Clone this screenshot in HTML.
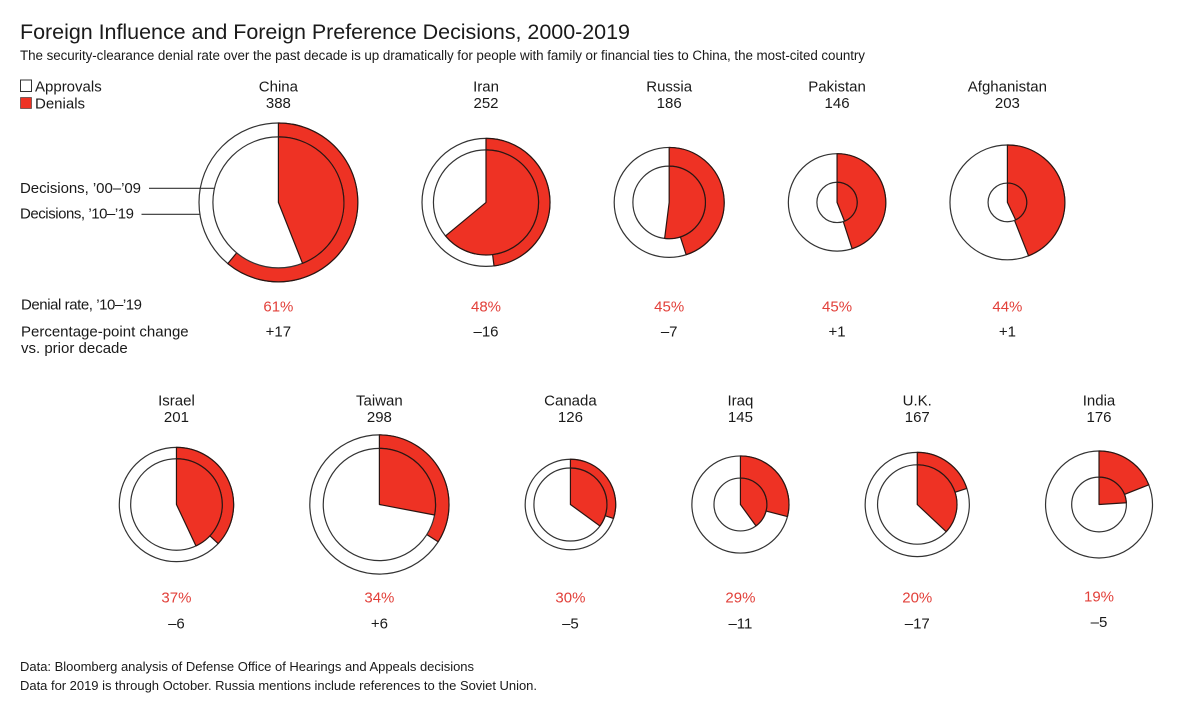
<!DOCTYPE html>
<html lang="en">
<head>
<meta charset="utf-8">
<title>Foreign Influence and Foreign Preference Decisions, 2000-2019</title>
<style>
html,body{margin:0;padding:0;background:#fff;}
svg{display:block;}
text{font-family:"Liberation Sans",sans-serif;fill:#1a1a1a;}
.label{font-size:15px;}
.mid{text-anchor:middle;}
.rate{fill:#e2403a;}
.foot{font-size:13px;}
</style>
</head>
<body>
<svg id="chart" xmlns="http://www.w3.org/2000/svg" width="1200" height="714" viewBox="0 0 1200 714">
  <rect x="0" y="0" width="1200" height="714" fill="#fff"/>
  <text x="20" y="39" font-size="21.5" textLength="610" lengthAdjust="spacing">Foreign Influence and Foreign Preference Decisions, 2000-2019</text>
  <text x="20" y="60" font-size="13.4" textLength="845" lengthAdjust="spacing">The security-clearance denial rate over the past decade is up dramatically for people with family or financial ties to China, the most-cited country</text>

  <rect x="20.5" y="80" width="11" height="11.5" fill="#fff" stroke="#333" stroke-width="1"/>
  <text class="label" x="35" y="91.5">Approvals</text>
  <rect x="20.5" y="97.5" width="11" height="11" fill="#ee3224" stroke="#333" stroke-width=".6"/>
  <text class="label" x="35" y="108.5">Denials</text>

  <text class="label" x="20" y="193" textLength="121" lengthAdjust="spacing">Decisions, ’00–’09</text>
  <text class="label" x="20" y="218.5" textLength="114" lengthAdjust="spacing">Decisions, ’10–’19</text>
  <text class="label" x="21" y="309.5" textLength="121" lengthAdjust="spacing">Denial rate, ’10–’19</text>
  <text class="label" x="21" y="336.5">Percentage-point change</text>
  <text class="label" x="21" y="353">vs. prior decade</text>

  <g id="marks"></g>

  <text class="foot" x="20" y="671" textLength="454" lengthAdjust="spacing">Data: Bloomberg analysis of Defense Office of Hearings and Appeals decisions</text>
  <text class="foot" x="20" y="690" textLength="517" lengthAdjust="spacing">Data for 2019 is through October. Russia mentions include references to the Soviet Union.</text>
</svg>
<script>
const countries = ["China","Iran","Russia","Pakistan","Afghanistan","Israel","Taiwan","Canada","Iraq","U.K.","India"];
const decisions10s = [388,252,186,146,203,201,298,126,145,167,176];
const decisions00s = [264,170,81,25,23,129,194,82,43,97,46];
const rates10s = [61,48,45,45,44,37,34,30,29,20,19];
const pointChanges = [17,-16,-7,1,1,-6,6,-5,-11,-17,-5];
const rowCounts = [5,6];

const NS = "http://www.w3.org/2000/svg";
const root = document.getElementById("marks");
const areaPerDecision = 16.25;
const rowLayouts = [
  {left:199, gap:64.2, cy:202.4, nameY:91.5, countY:108, rateY:311.5, changeY:336.5},
  {left:119.3, gap:76.2, cy:504.5, nameY:405.5, countY:422, rateY:602.5, changeY:628.5}
];
const RED = "#ee3224", INK = "#333";

function radiusScale(n){ return Math.sqrt(areaPerDecision * n); }
function angleScale(pct){ return pct / 100 * 2 * Math.PI; }
function pointAt(cx, cy, r, pct){
  const a = angleScale(pct);
  return [cx + r * Math.sin(a), cy - r * Math.cos(a)];
}
function wedgePath(cx, cy, r, pct){
  const p = pointAt(cx, cy, r, pct);
  const large = pct > 50 ? 1 : 0;
  return "M" + cx + " " + cy + "L" + cx + " " + (cy - r) + "A" + r + " " + r + " 0 " + large + " 1 " + p[0] + " " + p[1] + "Z";
}
function formatChange(v){ return (v >= 0 ? "+" : "–") + Math.abs(v); }
function slug(s){ return s.toLowerCase().replace(/[^a-z]/g, ""); }

function addCircle(parent, cx, cy, r){
  const c = document.createElementNS(NS, "circle");
  c.setAttribute("cx", cx);
  c.setAttribute("cy", cy);
  c.setAttribute("r", r);
  c.setAttribute("fill", "#fff");
  c.setAttribute("stroke", INK);
  c.setAttribute("stroke-width", "1.2");
  parent.appendChild(c);
  return c;
}
function addWedge(parent, cx, cy, r, pct){
  const w = document.createElementNS(NS, "path");
  w.setAttribute("d", wedgePath(cx, cy, r, pct));
  w.setAttribute("fill", RED);
  w.setAttribute("stroke", "#2b1512");
  w.setAttribute("stroke-width", "1.2");
  w.setAttribute("stroke-linejoin", "round");
  parent.appendChild(w);
  return w;
}
function addText(parent, x, y, str, cls){
  const t = document.createElementNS(NS, "text");
  t.setAttribute("x", x);
  t.setAttribute("y", y);
  t.setAttribute("class", cls);
  t.textContent = str;
  parent.appendChild(t);
  return t;
}

let idx = 0;
let firstCx = 0, firstCy = 0;
rowCounts.forEach(function(count, rowIndex){
  const row = rowLayouts[rowIndex];
  let cursor = row.left;
  for (let k = 0; k < count; k++, idx++){
    const name = slug(countries[idx]);
    const R = radiusScale(decisions10s[idx]);
    const r = radiusScale(decisions00s[idx]);
    const cx = cursor + R;
    const cy = row.cy;
    const priorRate = rates10s[idx] - pointChanges[idx];
    const lastInRow = rowIndex === 1 && k === count - 1;
    cursor += 2 * R + row.gap;
    if (idx === 0){ firstCx = cx; firstCy = cy; }

    const g = document.createElementNS(NS, "g");
    
    
    root.appendChild(g);

    const outerBase = addCircle(g, cx, cy, R);
    
    

    const outerWedge = addWedge(g, cx, cy, R, rates10s[idx]);
    
    

    const innerBase = addCircle(g, cx, cy, r);
    
    

    const innerWedge = addWedge(g, cx, cy, r, priorRate);
    
    

    const nameLabel = addText(g, cx, row.nameY, countries[idx], "label mid");
    
    

    const countLabel = addText(g, cx, row.countY, String(decisions10s[idx]), "label mid");
    
    

    const rateLabel = addText(g, cx, row.rateY - (lastInRow ? 1 : 0), rates10s[idx] + "%", "label mid rate");
    
    

    const changeLabel = addText(g, cx, row.changeY - (lastInRow ? 1.5 : 0), formatChange(pointChanges[idx]), "label mid");
    
    
  }
});

function addLeader(x1, y, radius){
  const dy = y - firstCy;
  const x2 = firstCx - Math.sqrt(radius * radius - dy * dy);
  const l = document.createElementNS(NS, "line");
  l.setAttribute("x1", x1);
  l.setAttribute("x2", x2);
  l.setAttribute("y1", y);
  l.setAttribute("y2", y);
  l.setAttribute("stroke", INK);
  l.setAttribute("stroke-width", "1.1");
  root.appendChild(l);
  return l;
}
const leaderInner = addLeader(149, 188.3, radiusScale(decisions00s[0]));


const leaderOuter = addLeader(141.5, 214.3, radiusScale(decisions10s[0]));


</script>
</body>
</html>
